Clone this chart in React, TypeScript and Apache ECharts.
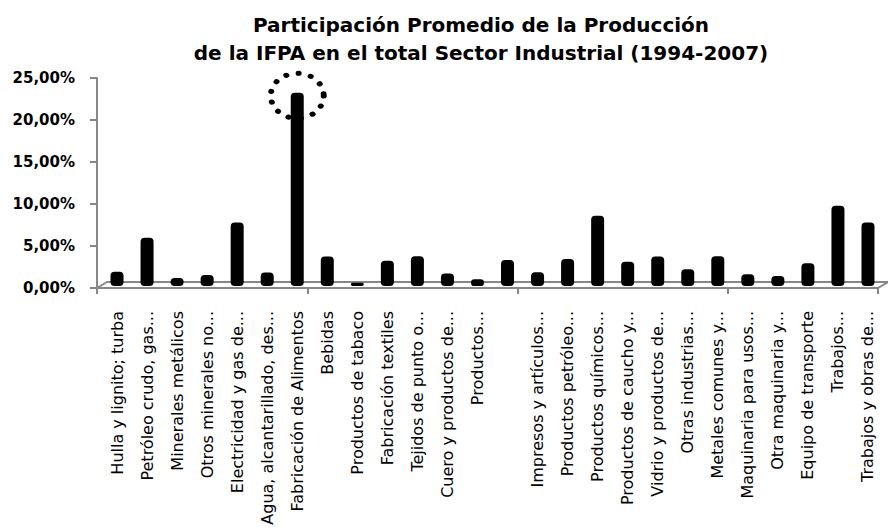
import React, { useEffect, useRef } from "react";
import * as echarts from "echarts";

const categories: string[] = [
  "Hulla y lignito; turba",
  "Petróleo crudo, gas...",
  "Minerales metálicos",
  "Otros minerales no...",
  "Electricidad y gas de...",
  "Agua, alcantarillado, des...",
  "Fabricación de Alimentos",
  "Bebidas",
  "Productos de tabaco",
  "Fabricación textiles",
  "Tejidos de punto o...",
  "Cuero y productos de...",
  "Productos...",
  "",
  "Impresos y artículos...",
  "Productos petróleo...",
  "Productos químicos...",
  "Productos de caucho y...",
  "Vidrio y productos de...",
  "Otras industrias...",
  "Metales comunes y...",
  "Maquinaria para usos...",
  "Otra maquinaria y...",
  "Equipo de transporte",
  "Trabajos...",
  "Trabajos y obras de...",
];

const values: number[] = [
  1.7, 5.75, 0.95, 1.3, 7.55, 1.6, 23.0, 3.5, 0.4, 3.0, 3.55, 1.5, 0.8,
  3.1, 1.65, 3.2, 8.35, 2.9, 3.5, 2.0, 3.55, 1.4, 1.2, 2.7, 9.55, 7.55,
];

const yTicks = { min: 0, max: 25, interval: 5 };
const title = "Participación Promedio de la Producción\nde la IFPA en el total Sector Industrial (1994-2007)";
const highlightIndex = 6;

const GRAY = "#878787";

export default function App() {
  const ref = useRef<HTMLDivElement>(null);
  useEffect(() => {
    if (!ref.current) return;
    const chart = echarts.init(ref.current, null, { renderer: "svg" });
    chart.setOption({
      animation: false,
      backgroundColor: "#fff",
      title: {
        text: title,
        left: 476,
        top: 6,
        textAlign: "center",
        textStyle: {
          fontFamily: "DejaVu Sans",
          fontWeight: "bold",
          fontSize: 20,
          lineHeight: 28,
          color: "#000",
        },
      },
      grid: [
        { left: 97, top: 78, width: 781, height: 210, outerBoundsMode: "none", containLabel: false },
        { left: 102, top: 76, width: 781, height: 210, outerBoundsMode: "none", containLabel: false },
        { left: 107, top: 272, right: 0, height: 10, outerBoundsMode: "none", containLabel: false },
      ],
      xAxis: [
        {
          gridIndex: 0,
          type: "category",
          data: categories,
          boundaryGap: true,
          axisLine: { show: true, lineStyle: { color: GRAY, width: 2 } },
          axisTick: { show: true, length: 6, lineStyle: { color: GRAY, width: 2 } },
          axisLabel: { show: false },
          splitLine: { show: false },
        },
        {
          gridIndex: 1,
          type: "category",
          data: categories,
          boundaryGap: true,
          axisLine: { show: false },
          axisTick: { show: false },
          axisLabel: {
            show: true,
            interval: 0,
            rotate: 90,
            margin: 25,
            fontFamily: "DejaVu Sans",
            fontSize: 16,
            color: "#000",
          },
          splitLine: { show: false },
        },
        {
          gridIndex: 2,
          type: "value",
          min: 0,
          max: 1,
          axisLine: { show: true, onZero: false, lineStyle: { color: GRAY, width: 2 } },
          axisTick: { show: false },
          axisLabel: { show: false },
          splitLine: { show: false },
        },
      ],
      yAxis: [
        {
          gridIndex: 0,
          type: "value",
          min: yTicks.min,
          max: yTicks.max,
          interval: yTicks.interval,
          axisLine: { show: true, lineStyle: { color: GRAY, width: 2 } },
          axisTick: { show: true, length: 7, lineStyle: { color: GRAY, width: 2 } },
          axisLabel: {
            margin: 22,
            fontFamily: "DejaVu Sans",
            fontWeight: "bold",
            fontSize: 15,
            color: "#000",
            formatter: (v: number) => v.toFixed(2).replace(".", ",") + "%",
          },
          splitLine: { show: false },
        },
        {
          gridIndex: 1,
          type: "value",
          min: yTicks.min,
          max: yTicks.max,
          interval: yTicks.interval,
          show: false,
        },
        {
          gridIndex: 2,
          type: "value",
          min: 0,
          max: 1,
          show: false,
        },
      ],
      series: [
        {
          type: "bar",
          xAxisIndex: 1,
          yAxisIndex: 1,
          data: values,
          barWidth: 13,
          itemStyle: { color: "#000", borderRadius: 4 },
          markPoint: {
            silent: true,
            label: { show: false },
            data: [
              {
                coord: [highlightIndex, values[highlightIndex]],
                symbol: "circle",
                symbolSize: [53, 45],
                symbolOffset: [0, 3],
                itemStyle: {
                  color: "rgba(0,0,0,0)",
                  borderColor: "#000",
                  borderWidth: 5.5,
                  borderType: [0.1, 11.5],
                  borderCap: "round",
                },
              },
            ],
          },
        },
      ],
      graphic: [
        {
          type: "line",
          shape: { x1: 97, y1: 288, x2: 107, y2: 282 },
          style: { stroke: GRAY, lineWidth: 2 },
          z: 0,
        },
        {
          type: "line",
          shape: { x1: 878, y1: 288, x2: 888, y2: 282 },
          style: { stroke: GRAY, lineWidth: 2 },
          z: 0,
        },
      ],
    });
    return () => chart.dispose();
  }, []);
  return (
    <div
      ref={ref}
      style={{ position: "fixed", left: 0, top: 0, width: 888, height: 531, background: "#fff" }}
    />
  );
}
